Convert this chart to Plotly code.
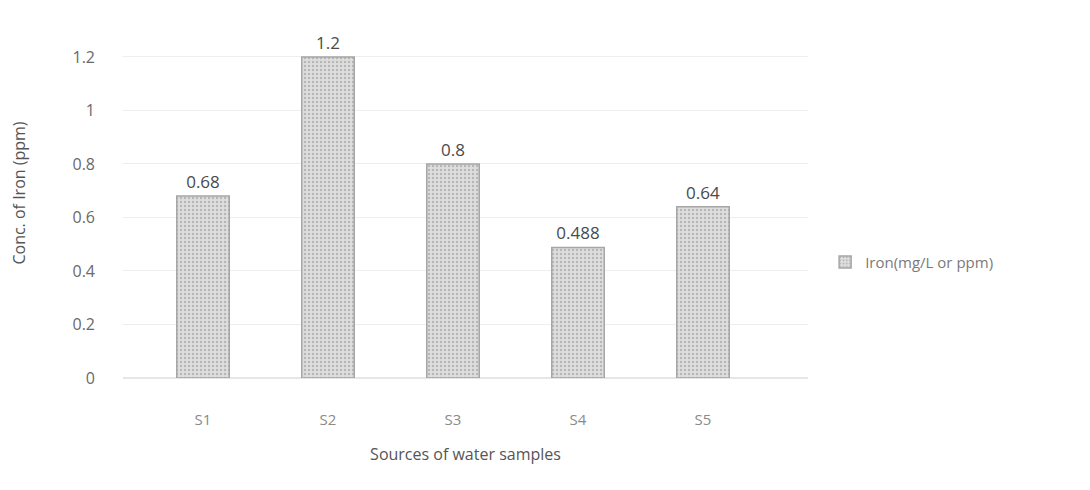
import plotly.graph_objects as go

categories = ["S1", "S2", "S3", "S4", "S5"]
iron_values = [0.68, 1.2, 0.8, 0.488, 0.64]
value_labels = ["0.68", "1.2", "0.8", "0.488", "0.64"]
y_ticks = [0, 0.2, 0.4, 0.6, 0.8, 1, 1.2]
y_tick_labels = ["0", "0.2", "0.4", "0.6", "0.8", "1", "1.2"]

font_family = "Open Sans, Liberation Sans, sans-serif"

fig = go.Figure()
fig.add_trace(go.Bar(
    x=categories,
    y=iron_values,
    name="Iron(mg/L or ppm)",
    width=0.42,
    marker=dict(
        color="#d8d8d8",
        line=dict(color="#a6a6a6", width=1.5),
        pattern=dict(shape=".", fgcolor="#909090", bgcolor="#dedede", size=4, solidity=0.3),
    ),
    text=value_labels,
    textposition="outside",
    textfont=dict(size=17, color="#4a4a4a", family=font_family),
    cliponaxis=False,
))

fig.update_layout(
    width=1090, height=490,
    margin=dict(l=115, r=290, t=0, b=120),
    paper_bgcolor="white",
    plot_bgcolor="white",
    font=dict(family=font_family, color="#6a6a6a"),
    showlegend=True,
    legend=dict(x=1.025, y=0.313, xanchor="left", yanchor="middle",
                font=dict(size=15, color="#7a7a7a", family=font_family),
                bgcolor="rgba(0,0,0,0)"),
    xaxis=dict(
        range=[-0.64, 4.84],
        showgrid=False,
        showline=False,
        tickfont=dict(size=15, color="#8a8a8a"),
        ticks="",
        ticklabelstandoff=31,
        title=dict(text="Sources of water samples", font=dict(size=16, color="#555555"), standoff=20),
    ),
    yaxis=dict(
        range=[0, 1.383],
        tickvals=y_ticks,
        ticktext=y_tick_labels,
        showgrid=True,
        gridcolor="#eeeeee",
        zeroline=True,
        zerolinecolor="#e6e6e6",
        tickfont=dict(size=16, color="#6a6a6a"),
        ticks="",
        ticklabelstandoff=27,
        title=dict(text="Conc. of Iron (ppm)", font=dict(size=16, color="#555555"), standoff=42),
    ),
    bargap=0.58,
)

fig.write_html("out.html")
